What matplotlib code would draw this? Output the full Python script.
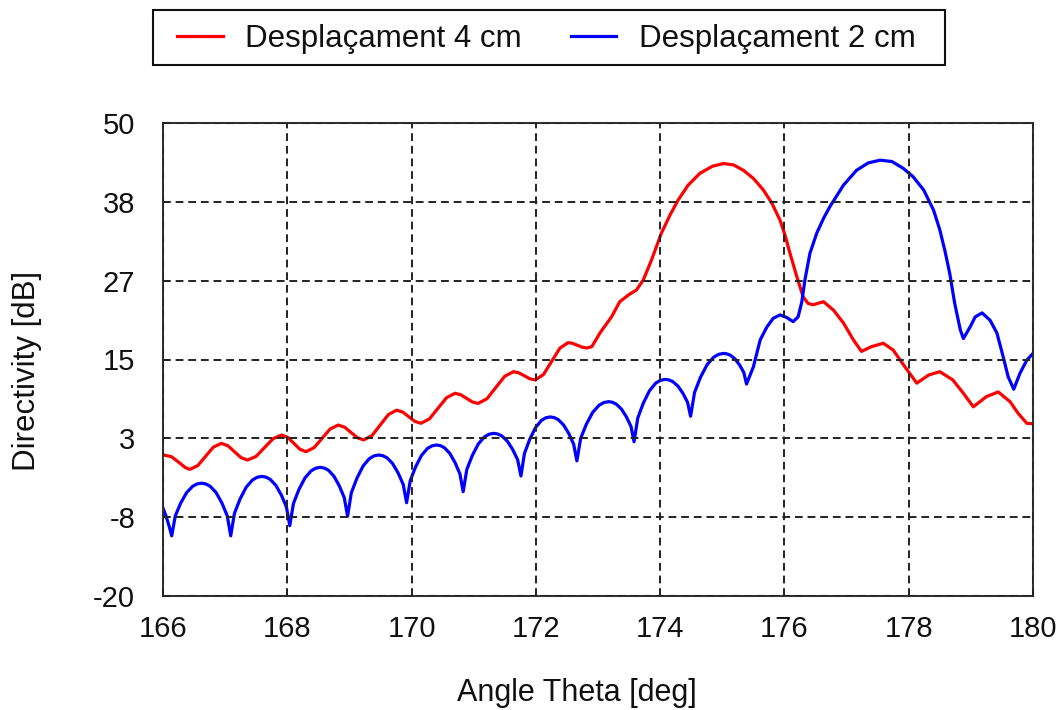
import matplotlib
matplotlib.use("Agg")
import matplotlib.pyplot as plt
from matplotlib.patches import Rectangle
import numpy as np

plt.rcParams['font.family'] = ['Liberation Sans', 'DejaVu Sans']

# Desplaçament 4 cm (red)
theta_4cm = [166.00, 166.14, 166.28, 166.36, 166.43, 166.56, 166.685, 166.81, 166.94,
             167.045, 167.15, 167.255, 167.36, 167.498, 167.635, 167.773, 167.91,
             168.008, 168.105, 168.203, 168.30, 168.43, 168.56, 168.69, 168.82,
             168.923, 169.025, 169.128, 169.23, 169.363, 169.495, 169.628, 169.76,
             169.858, 169.955, 170.053, 170.15, 170.288, 170.425, 170.563, 170.70,
             170.793, 170.885, 170.978, 171.07, 171.213, 171.355, 171.498, 171.64,
             171.728, 171.815, 171.903, 171.99, 172.123, 172.255, 172.388, 172.52,
             172.595, 172.67, 172.745, 172.82, 172.90, 173.03, 173.22, 173.35, 173.49,
             173.62, 173.73, 173.86, 174.02, 174.16, 174.29, 174.45, 174.64, 174.84,
             175.02, 175.18, 175.34, 175.50, 175.66, 175.80, 175.93, 176.01, 176.09,
             176.20, 176.30, 176.38, 176.46, 176.63, 176.79, 176.95, 177.11, 177.24,
             177.40, 177.59, 177.75, 177.94, 178.13, 178.32, 178.50, 178.71, 178.88,
             179.04, 179.25, 179.44, 179.63, 179.76, 179.90, 180.00]
dir_4cm = [0.9, 0.6, -0.4, -1.0, -1.26, -0.70, 0.67, 2.03, 2.59,
           2.23, 1.36, 0.48, 0.12, 0.66, 1.98, 3.29, 3.83,
           3.47, 2.60, 1.72, 1.36, 1.94, 3.33, 4.72, 5.3,
           4.98, 4.2, 3.42, 3.1, 3.74, 5.3, 6.86, 7.5,
           7.22, 6.53, 5.84, 5.56, 6.21, 7.78, 9.35, 10.0,
           9.78, 9.25, 8.72, 8.5, 9.19, 10.85, 12.51, 13.2,
           13.02, 12.59, 12.15, 11.97, 12.78, 14.74, 16.69, 17.5,
           17.38, 17.1, 16.82, 16.7, 16.9, 18.9, 21.35, 23.55, 24.55,
           25.3, 26.8, 29.7, 33.7, 36.4, 38.6, 40.8, 42.55, 43.6,
           44.0, 43.8, 43.0, 41.8, 40.1, 38.1, 35.6, 33.4, 30.7,
           27.25, 24.3, 23.3, 23.1, 23.55, 22.3, 20.4, 17.9, 16.2,
           16.9, 17.4, 16.4, 13.9, 11.5, 12.7, 13.2, 11.97, 10.0,
           8.0, 9.5, 10.2, 8.76, 7.04, 5.56, 5.5]

# Desplaçament 2 cm (blue)
theta_2cm = [166.00, 166.05, 166.10, 166.14,
             166.198, 166.284, 166.38, 166.476, 166.548, 166.62,
             166.69, 166.76, 166.855, 166.949, 167.034, 167.09,
             167.15, 167.24, 167.34, 167.44, 167.515, 167.59,
             167.658, 167.725, 167.815, 167.905, 167.986, 168.04,
             168.099, 168.187, 168.285, 168.383, 168.457, 168.53,
             168.596, 168.662, 168.75, 168.838, 168.917, 168.97,
             169.03, 169.12, 169.22, 169.32, 169.395, 169.47,
             169.538, 169.605, 169.695, 169.785, 169.866, 169.92,
             169.978, 170.064, 170.16, 170.256, 170.328, 170.40,
             170.465, 170.529, 170.615, 170.701, 170.778, 170.83,
             170.889, 170.977, 171.075, 171.173, 171.247, 171.32,
             171.386, 171.452, 171.54, 171.628, 171.707, 171.76,
             171.816, 171.901, 171.995, 172.089, 172.16, 172.23,
             172.295, 172.359, 172.445, 172.531, 172.608, 172.66,
             172.721, 172.813, 172.915, 173.017, 173.094, 173.17,
             173.232, 173.293, 173.375, 173.457, 173.531, 173.58,
             173.64, 173.73, 173.83, 173.93, 174.005, 174.08,
             174.142, 174.203, 174.285, 174.367, 174.441, 174.49,
             174.554, 174.649, 174.755, 174.861, 174.94, 175.02,
             175.075, 175.131, 175.205, 175.279, 175.346, 175.39,
             175.50, 175.61, 175.72, 175.82, 175.93, 176.04, 176.14,
             176.22, 176.28, 176.33, 176.41, 176.52, 176.63, 176.73, 176.95,
             177.16, 177.35, 177.54, 177.73, 177.91, 178.07, 178.24, 178.40,
             178.50, 178.58, 178.66, 178.74, 178.83, 178.88, 178.99, 179.07,
             179.18, 179.31, 179.42, 179.52, 179.60, 179.69, 179.79, 179.90, 180.00]
dir_2cm = [-7.0, -8.2, -9.7, -11.1,
           -8.14, -6.26, -4.70, -3.77, -3.42, -3.3,
           -3.42, -3.77, -4.70, -6.26, -8.14, -11.1,
           -7.76, -5.64, -3.88, -2.83, -2.43, -2.3,
           -2.41, -2.74, -3.61, -5.07, -6.83, -9.6,
           -6.32, -4.24, -2.52, -1.48, -1.09, -0.96,
           -1.07, -1.39, -2.26, -3.71, -5.45, -8.2,
           -4.75, -2.58, -0.76, 0.33, 0.73, 0.87,
           0.76, 0.45, -0.40, -1.82, -3.51, -6.2,
           -2.95, -0.90, 0.81, 1.84, 2.22, 2.35,
           2.25, 1.94, 1.11, -0.28, -1.93, -4.56,
           -1.28, 0.79, 2.52, 3.55, 3.94, 4.07,
           3.98, 3.69, 2.93, 1.67, 0.16, -2.24,
           1.08, 3.18, 4.93, 5.98, 6.37, 6.5,
           6.40, 6.11, 5.33, 4.03, 2.47, 0.0,
           3.33, 5.43, 7.18, 8.23, 8.63, 8.76,
           8.67, 8.40, 7.69, 6.51, 5.09, 2.84,
           6.34, 8.56, 10.40, 11.51, 11.92, 12.06,
           11.98, 11.73, 11.08, 9.99, 8.67, 6.6,
           10.13, 12.37, 14.23, 15.34, 15.76, 15.9,
           15.83, 15.63, 15.08, 14.18, 13.09, 11.37,
           13.9, 17.9, 19.85, 21.1, 21.6, 21.2, 20.6,
           21.3, 23.55, 26.8, 30.7, 33.7, 35.9, 37.6, 40.8,
           43.0, 44.1, 44.5, 44.3, 43.3, 42.05, 40.1, 37.1,
           34.2, 31.2, 27.75, 23.3, 19.4, 18.1, 19.85, 21.3,
           21.9, 20.8, 18.9, 15.4, 12.45, 10.6, 12.95, 14.9, 15.9]

xticks = [166, 168, 170, 172, 174, 176, 178, 180]
ytick_labels = ["-20", "-8", "3", "15", "27", "38", "50"]

W, H = 1059, 710
fig = plt.figure(figsize=(W / 100, H / 100), dpi=100)
ax = fig.add_axes([163/W, 1 - 596/H, (1033-163)/W, (596-123)/H])

l1, = ax.plot(theta_4cm, dir_4cm, color='#ff0000', lw=2.3, label='Desplaçament 4 cm',
              solid_joinstyle='round')
l2, = ax.plot(theta_2cm, dir_2cm, color='#0000ff', lw=2.3, label='Desplaçament 2 cm',
              solid_joinstyle='round')

ax.set_xlim(166, 180)
ax.set_ylim(-20, 50)
ax.set_xticks(xticks)
ax.set_xticklabels([str(t) for t in xticks])
ax.set_yticks(np.linspace(-20, 50, len(ytick_labels)))
ax.set_yticklabels(ytick_labels)

ax.grid(True, color='#222222', linestyle=(0, (4, 2.5)), linewidth=1.4)
ax.set_axisbelow(False)
for sp in ax.spines.values():
    sp.set_color('#333333')
    sp.set_linewidth(1.5)

ax.tick_params(axis='both', direction='in', length=5, width=1.2, color='#222222',
               labelsize=21, labelcolor='#111111')
ax.tick_params(axis='x', pad=14)
ax.tick_params(axis='y', pad=20)

xl = ax.set_xlabel('Angle Theta [deg]', fontsize=22, color='#111111')
xl.set_va('baseline')
ax.xaxis.set_label_coords((577 - 163) / 870, -(701 - 596) / 473)
yl = ax.set_ylabel('Directivity [dB]', fontsize=22.5, color='#111111')
ax.yaxis.set_label_coords((42 - 163) / 870, (596 - 371) / 473)

# legend frame drawn as rectangle in figure pixels
fig.patches.append(Rectangle((153 / W, 1 - 65 / H), (945 - 153) / W, (65 - 10) / H,
                             transform=fig.transFigure, fill=False,
                             edgecolor='#111111', linewidth=1.5))
leg = fig.legend(handles=[l1, l2], loc='center left', bbox_to_anchor=(177 / W, 1 - 39 / H),
                 ncol=2, fontsize=22.5, frameon=False,
                 handlelength=1.47, handletextpad=0.72, columnspacing=1.55,
                 borderpad=0, borderaxespad=0)
for t in leg.get_texts():
    t.set_color('#111111')

fig.savefig('out.png', dpi=100)
